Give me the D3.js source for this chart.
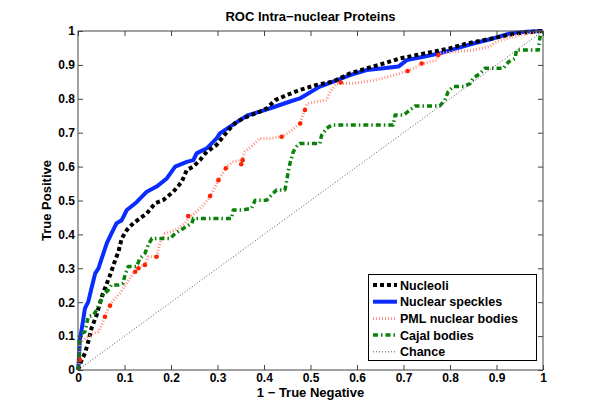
<!DOCTYPE html>
<html><head><meta charset="utf-8">
<script src="https://cdn.jsdelivr.net/npm/d3@7"></script>
<style>body{margin:0;background:#fff}svg{display:block}text{font-family:"Liberation Sans",Arial,sans-serif;font-weight:bold}</style>
</head><body><svg id="c" width="600" height="416"></svg>
<script>
const title = "ROC Intra\u2212nuclear Proteins";
const xLabel = "1 \u2212 True Negative";
const yLabel = "True Positive";
const ticks = [0,0.1,0.2,0.3,0.4,0.5,0.6,0.7,0.8,0.9,1];
const tickLabels = ["0","0.1","0.2","0.3","0.4","0.5","0.6","0.7","0.8","0.9","1"];
const seriesNames = ["Nucleoli","Nuclear speckles","PML nuclear bodies","Cajal bodies","Chance"];

const nucleoli = [[0,0],[0.008,0.03],[0.015,0.049],[0.022,0.083],[0.029,0.123],[0.04,0.162],[0.051,0.216],[0.058,0.241],[0.069,0.28],[0.08,0.324],[0.087,0.349],[0.094,0.388],[0.105,0.413],[0.119,0.433],[0.133,0.447],[0.148,0.462],[0.166,0.492],[0.183,0.501],[0.205,0.526],[0.223,0.555],[0.234,0.59],[0.248,0.60],[0.262,0.619],[0.277,0.644],[0.298,0.664],[0.312,0.688],[0.327,0.713],[0.341,0.732],[0.363,0.747],[0.391,0.762],[0.406,0.772],[0.424,0.796],[0.449,0.811],[0.477,0.826],[0.513,0.841],[0.549,0.851],[0.585,0.875],[0.621,0.89],[0.657,0.904],[0.692,0.919],[0.728,0.929],[0.764,0.939],[0.80,0.949],[0.836,0.963],[0.872,0.973],[0.908,0.983],[0.943,0.993],[0.979,0.998],[1,1]];
const speckles = [[0,0],[0.001,0.01],[0.004,0.088],[0.01,0.138],[0.015,0.182],[0.022,0.201],[0.029,0.241],[0.037,0.285],[0.044,0.30],[0.051,0.329],[0.062,0.374],[0.072,0.403],[0.083,0.433],[0.094,0.442],[0.105,0.472],[0.126,0.495],[0.148,0.526],[0.169,0.541],[0.191,0.565],[0.209,0.600],[0.234,0.614],[0.248,0.619],[0.255,0.639],[0.277,0.654],[0.298,0.683],[0.305,0.698],[0.327,0.718],[0.348,0.737],[0.366,0.752],[0.391,0.762],[0.42,0.775],[0.456,0.792],[0.477,0.801],[0.52,0.836],[0.549,0.851],[0.585,0.870],[0.621,0.885],[0.657,0.890],[0.689,0.895],[0.707,0.914],[0.743,0.924],[0.778,0.934],[0.814,0.949],[0.85,0.963],[0.893,0.978],[0.929,0.993],[0.965,0.998],[1,1]];
const pml = [[0,0],[0.004,0.079],[0.011,0.088],[0.022,0.098],[0.033,0.108],[0.044,0.113],[0.051,0.133],[0.058,0.157],[0.065,0.182],[0.076,0.206],[0.09,0.226],[0.105,0.256],[0.119,0.285],[0.13,0.305],[0.144,0.31],[0.151,0.334],[0.169,0.334],[0.176,0.374],[0.187,0.403],[0.201,0.408],[0.216,0.418],[0.23,0.433],[0.241,0.452],[0.255,0.467],[0.27,0.487],[0.284,0.511],[0.302,0.56],[0.32,0.60],[0.334,0.614],[0.352,0.619],[0.359,0.644],[0.377,0.664],[0.391,0.683],[0.413,0.683],[0.438,0.688],[0.456,0.703],[0.477,0.727],[0.485,0.757],[0.493,0.786],[0.513,0.792],[0.535,0.796],[0.542,0.821],[0.556,0.845],[0.585,0.845],[0.621,0.851],[0.657,0.861],[0.692,0.875],[0.714,0.885],[0.743,0.904],[0.771,0.914],[0.778,0.934],[0.814,0.939],[0.85,0.944],[0.886,0.954],[0.90,0.969],[0.922,0.978],[0.95,0.988],[0.979,0.995],[1,1]];
const pmlMarkers = [[0.004,0.03],[0.058,0.157],[0.069,0.19],[0.123,0.29],[0.13,0.30],[0.144,0.31],[0.169,0.334],[0.237,0.454],[0.284,0.513],[0.302,0.56],[0.318,0.595],[0.351,0.607],[0.354,0.619],[0.438,0.688],[0.478,0.727],[0.488,0.767],[0.565,0.848],[0.709,0.882],[0.739,0.904],[0.775,0.929]];
const cajal = [[0,0],[0.003,0.049],[0.003,0.098],[0.008,0.108],[0.015,0.113],[0.022,0.157],[0.033,0.162],[0.04,0.177],[0.047,0.197],[0.054,0.221],[0.065,0.236],[0.072,0.251],[0.087,0.251],[0.097,0.256],[0.101,0.28],[0.108,0.305],[0.126,0.305],[0.133,0.329],[0.144,0.344],[0.151,0.369],[0.159,0.388],[0.198,0.388],[0.209,0.403],[0.227,0.418],[0.245,0.433],[0.248,0.447],[0.33,0.447],[0.334,0.472],[0.355,0.472],[0.373,0.477],[0.381,0.501],[0.406,0.501],[0.416,0.516],[0.427,0.531],[0.445,0.531],[0.449,0.56],[0.452,0.585],[0.456,0.61],[0.463,0.644],[0.47,0.659],[0.477,0.668],[0.52,0.668],[0.524,0.693],[0.535,0.713],[0.546,0.723],[0.678,0.723],[0.682,0.752],[0.70,0.752],[0.714,0.767],[0.725,0.779],[0.778,0.779],[0.789,0.796],[0.796,0.821],[0.807,0.836],[0.829,0.836],[0.843,0.845],[0.85,0.861],[0.865,0.875],[0.875,0.89],[0.915,0.89],[0.926,0.909],[0.94,0.919],[0.943,0.944],[0.99,0.944],[0.992,0.969],[0.995,0.993],[1,1]];
const chance = [[0,0],[1,1]];

const svg = d3.select("#c");
const L = 78, R = 543, T = 31, B = 370;
const x = d3.scaleLinear().domain([0,1]).range([L,R]);
const y = d3.scaleLinear().domain([0,1]).range([B,T]);
const line = d3.line().x(d=>x(d[0])).y(d=>y(d[1]));

const styles = [
  {data: speckles, stroke:"#0a2cff", width:4, dash:null},
  {data: nucleoli, stroke:"#000", width:4, dash:"4,3"},
  {data: pml, stroke:"#ff9080", width:3, dash:"1,2"},
  {data: cajal, stroke:"#0a820a", width:3.5, dash:"5,3,1.5,3"},
  {data: chance, stroke:"#555", width:1, dash:"1,2"}
];

svg.append("rect").attr("x",L).attr("y",T).attr("width",R-L).attr("height",B-T).attr("fill","#fff");

styles.forEach(s=>{
  svg.append("path").datum(s.data).attr("d",line).attr("fill","none")
    .attr("stroke",s.stroke).attr("stroke-width",s.width)
    .attr("stroke-dasharray",s.dash).attr("stroke-linejoin","round");
});
svg.append("g").selectAll("circle").data(pmlMarkers).join("circle")
  .attr("cx",d=>x(d[0])).attr("cy",d=>y(d[1])).attr("r",2.3).attr("fill","#ff2200");

const ax = svg.append("g").attr("fill","none").attr("stroke","#444").attr("stroke-width",1);
ax.append("rect").attr("x",L).attr("y",T).attr("width",R-L).attr("height",B-T);
const xb = d3.axisBottom(x).tickValues(ticks).tickSize(-5).tickFormat((d,i)=>tickLabels[i]).tickPadding(3);
const xt = d3.axisTop(x).tickValues(ticks).tickSize(-5).tickFormat("");
const yl = d3.axisLeft(y).tickValues(ticks).tickSize(-5).tickFormat((d,i)=>tickLabels[i]).tickPadding(3);
const yr = d3.axisRight(y).tickValues(ticks).tickSize(-5).tickFormat("");
function style(g){g.select(".domain").remove();g.selectAll("line").attr("stroke","#444");g.selectAll("text").attr("fill","#000").style("font-size","12px").style("font-weight","bold").style("font-family","Liberation Sans, Arial, sans-serif");}
svg.append("g").attr("transform",`translate(0,${B})`).call(xb).call(style);
svg.append("g").attr("transform",`translate(0,${T})`).call(xt).call(style);
svg.append("g").attr("transform",`translate(${L},0)`).call(yl).call(style);
svg.append("g").attr("transform",`translate(${R},0)`).call(yr).call(style);

svg.append("text").attr("x",(L+R)/2).attr("y",21).attr("text-anchor","middle").style("font-size","13px").text(title);
svg.append("text").attr("x",(L+R)/2).attr("y",397).attr("text-anchor","middle").style("font-size","13px").text(xLabel);
svg.append("text").attr("transform",`translate(51,${(T+B)/2}) rotate(-90)`).attr("text-anchor","middle").style("font-size","13px").text(yLabel);

const lg = svg.append("g");
lg.append("rect").attr("x",368.5).attr("y",274.5).attr("width",168).attr("height",86).attr("fill","#fff").attr("stroke","#000").attr("stroke-width",1);
const legStyles = [styles[1],styles[0],styles[2],styles[3],styles[4]];
seriesNames.forEach((n,i)=>{
  const yy = 285 + i*16.7;
  const s = legStyles[i];
  lg.append("line").attr("x1",373).attr("x2",397).attr("y1",yy).attr("y2",yy)
    .attr("stroke",s.stroke).attr("stroke-width",s.width).attr("stroke-dasharray",s.dash);
  lg.append("text").attr("x",400).attr("y",yy+4.5).style("font-size","12.5px").text(n);
});
</script></body></html>
